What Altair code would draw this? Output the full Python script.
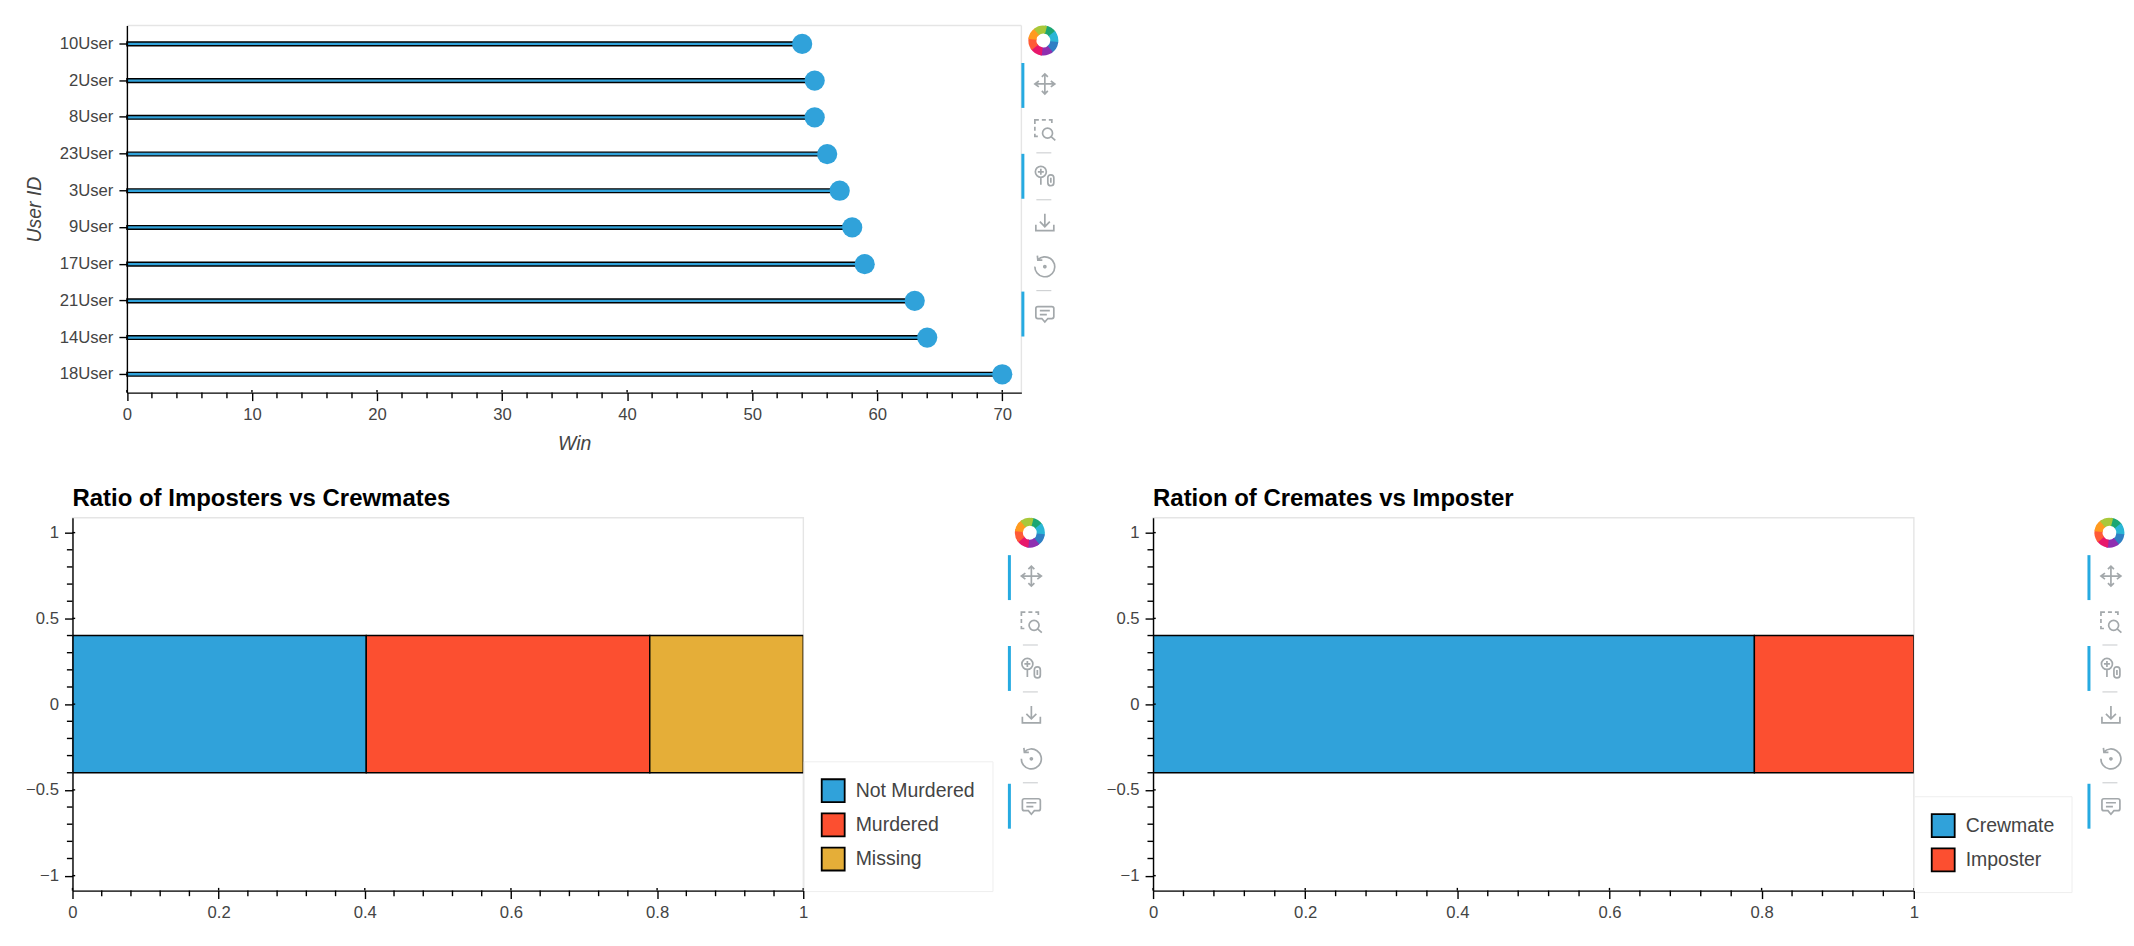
import altair as alt
import pandas as pd

users = ["10User", "2User", "8User", "23User", "3User", "9User", "17User", "21User", "14User", "18User"]
wins = [54, 55, 55, 56, 57, 58, 59, 63, 64, 70]

fate_labels = ["Not Murdered", "Murdered", "Missing"]
fate_start = [0.0, 0.402, 0.79]
fate_end = [0.402, 0.79, 1.0]
fate_colors = ["#30a2da", "#fc4f30", "#e5ae38"]

role_labels = ["Crewmate", "Imposter"]
role_start = [0.0, 0.7905]
role_end = [0.7905, 1.0]
role_colors = ["#30a2da", "#fc4f30"]

bar_low = -0.4
bar_high = 0.4

win_major = [0, 10, 20, 30, 40, 50, 60, 70]
win_minor = [2, 4, 6, 8, 12, 14, 16, 18, 22, 24, 26, 28, 32, 34, 36, 38, 42, 44, 46, 48,
             52, 54, 56, 58, 62, 64, 66, 68]
ratio_major = [0, 0.2, 0.4, 0.6, 0.8, 1]
ratio_minor = [0.04, 0.08, 0.12, 0.16, 0.24, 0.28, 0.32, 0.36, 0.44, 0.48, 0.52, 0.56,
               0.64, 0.68, 0.72, 0.76, 0.84, 0.88, 0.92, 0.96]
y_major = [-1, -0.5, 0, 0.5, 1]
y_minor = [-0.9, -0.8, -0.7, -0.6, -0.4, -0.3, -0.2, -0.1, 0.1, 0.2, 0.3, 0.4, 0.6, 0.7, 0.8, 0.9]

FONT = "Liberation Sans"
TEXT = "#444444"
BLACK = "#000000"
LW = 1.4
BORDER = "#e5e5e5"
ICON = "#a3a8ab"
ACTIVE = "#26aae1"

ICONS = {
    "pan": "M-9,0 L9,0 M0,-10 L0,10 M-6,-3 L-10,0 L-6,3 M6,-3 L10,0 L6,3 M-3,-7 L0,-10 L3,-7 M-3,7 L0,10 L3,7",
    "box": "M-10,-6 L-10,-10 L-6,-10 M-3,-10 L1,-10 M4,-10 L7,-10 L7,-7 M-10,-3 L-10,1 M-10,4 L-10,6.5 L-7,6.5 "
           "M7.7,3.3 A5,5 0 1 1 -2.3,3.3 A5,5 0 1 1 7.7,3.3 M6.5,7 L10.5,10.5",
    "wheel": "M1.5,-4 A5.5,5.5 0 1 1 -9.5,-4 A5.5,5.5 0 1 1 1.5,-4 M-4,-7 L-4,-1 M-7,-4 L-1,-4 M-4,1.5 L-4,9 "
             "M3,2 Q3,-1 6,-1 Q9,-1 9,2 L9,7 Q9,10 6,10 Q3,10 3,7 Z M6,2 L6,7",
    "save": "M0,-8 L0,5 M-5,0 L0,5 L5,0 M-9,3 L-9,9 L9,9 L9,3",
    "reset": "M-7,-7 A10,10 0 1 1 -10,0 M-7.5,-11 L-7,-6.5 L-2.5,-6.5 M1,0 A1,1 0 1 1 -1,0 A1,1 0 1 1 1,0",
    "note": "M-7,-7 L7,-7 Q9,-7 9,-5 L9,3 Q9,5 7,5 L3,5 L0,8.5 L-3,5 L-7,5 Q-9,5 -9,3 L-9,-5 Q-9,-7 -7,-7 Z M-5,-3 L5,-3 M-5,1 L2,1",
}
ICON_ROWS = [("pan", 58.5), ("box", 104.5), ("wheel", 150.5), ("save", 196.5), ("reset", 241.5), ("note", 288.5)]
SEPARATORS = [127.5, 174.5, 265.5]
ACTIVE_SPANS = [(37.5, 82.5), (128.5, 173.5), (266.5, 311.5)]
LOGO = ["#1ba672", "#2ab6d6", "#2f7fc4", "#8e2fb0", "#e8176b", "#ff5a36", "#ff9a1f", "#a9c83a"]
ONE = alt.Data(values=[{"k": 0}])


def toolbar(x0):
    parts = []
    for i, col in enumerate(LOGO):
        parts.append(alt.Chart(ONE).mark_arc(
            theta=i * 0.7854 + 0.1, theta2=(i + 1) * 0.7854 + 0.25, radius=15, radius2=7, color=col
        ).encode(x=alt.value(x0 + 22), y=alt.value(15)))
    for a, b in ACTIVE_SPANS:
        parts.append(alt.Chart(ONE).mark_rule(color=ACTIVE, strokeWidth=3).encode(
            x=alt.value(x0 + 1.5), y=alt.value(a), y2=alt.value(b)))
    for s in SEPARATORS:
        parts.append(alt.Chart(ONE).mark_rule(color="#d0d2d4", strokeWidth=1.2).encode(
            x=alt.value(x0 + 15), x2=alt.value(x0 + 30), y=alt.value(s)))
    for name, yy in ICON_ROWS:
        parts.append(alt.Chart(ONE).mark_point(
            shape=ICONS[name], size=4, filled=False, stroke=ICON, strokeWidth=1.7, opacity=1
        ).encode(x=alt.value(x0 + 23.5), y=alt.value(yy)))
    return parts


def x_ticks(major, minor, scale, h, title):
    inner = alt.Chart(pd.DataFrame({"v": major})).mark_rule(color=BLACK, strokeWidth=LW).encode(
        x=alt.X("v:Q", scale=scale, title=title), y=alt.value(h - 2.7), y2=alt.value(h))
    outer = alt.Chart(pd.DataFrame({"v": minor})).mark_rule(color=BLACK, strokeWidth=LW).encode(
        x=alt.X("v:Q", scale=scale, title=title), y=alt.value(h), y2=alt.value(h + 5.6))
    return [inner, outer]


def y_ticks(major, minor, scale):
    inner = alt.Chart(pd.DataFrame({"v": major})).mark_rule(color=BLACK, strokeWidth=LW).encode(
        y=alt.Y("v:Q", scale=scale, title=None), x=alt.value(0), x2=alt.value(2.7))
    outer = alt.Chart(pd.DataFrame({"v": minor})).mark_rule(color=BLACK, strokeWidth=LW).encode(
        y=alt.Y("v:Q", scale=scale, title=None), x=alt.value(-5.6), x2=alt.value(0))
    return [inner, outer]


# --- lollipop panel: its plot sits further right than the panel below it
INSET = 54.5
W1, H1 = 950.5, 367.7
win_scale = alt.Scale(domain=[0, 71.53], range=[INSET, W1], nice=False, zero=False)
user_scale = alt.Scale(domain=users, paddingInner=0, paddingOuter=0)
win_df = pd.DataFrame({"user": users, "win": wins})

stems = alt.Chart(win_df).mark_bar(
    size=3.7, color="#30a2da", stroke=BLACK, strokeWidth=LW
).encode(
    x=alt.X("win:Q", scale=win_scale, title="Win",
            axis=alt.Axis(values=win_major, format="d", zindex=1, titlePadding=11.5, labelFlush=False)),
    y=alt.Y("user:N", scale=user_scale, sort=users, title="User ID",
            axis=alt.Axis(zindex=1, titlePadding=15, offset=-INSET)),
)
heads = alt.Chart(win_df).mark_circle(size=410, color="#30a2da", opacity=1).encode(
    x=alt.X("win:Q", scale=win_scale, title="Win"),
    y=alt.Y("user:N", scale=user_scale, sort=users, title="User ID"),
)
top_edge = alt.Chart(ONE).mark_rule(color=BORDER, strokeWidth=LW).encode(
    x=alt.value(INSET), x2=alt.value(W1), y=alt.value(0))
right_edge = alt.Chart(ONE).mark_rule(color=BORDER, strokeWidth=LW).encode(
    x=alt.value(W1), y=alt.value(0), y2=alt.value(H1))
panel1 = alt.layer(
    top_edge, right_edge, stems, heads, *x_ticks(win_major, win_minor, win_scale, H1, "Win"), *toolbar(W1)
).properties(width=W1, height=H1, view=alt.ViewConfig(stroke=None))


# --- stacked ratio panels
def ratio_panel(title, labels, starts, ends, colors, width, legend_x, legend_y, bar_x):
    x_scale = alt.Scale(domain=[0, 1], nice=False, zero=False)
    y_scale = alt.Scale(domain=[-1.087, 1.087], nice=False, zero=False)
    h = 373.5
    df = pd.DataFrame({"label": labels, "start": starts, "end": ends,
                       "low": [bar_low] * len(labels), "high": [bar_high] * len(labels)})
    bars = alt.Chart(df).mark_bar(stroke=BLACK, strokeWidth=LW, clip=True).encode(
        x=alt.X("start:Q", scale=x_scale, title=None,
                axis=alt.Axis(values=ratio_major, format="~g", zindex=1, labelFlush=False)),
        x2="end:Q",
        y=alt.Y("low:Q", scale=y_scale, title=None,
                axis=alt.Axis(values=y_major, format=".1~f", zindex=1)),
        y2="high:Q",
        color=alt.Color("label:N", scale=alt.Scale(domain=labels, range=colors), legend=alt.Legend(
            title=None, orient="none", legendX=legend_x, legendY=legend_y,
            fillColor="#ffffff", strokeColor="#eeeeee", padding=17,
            symbolType="square", symbolSize=529, symbolStrokeColor=BLACK, symbolStrokeWidth=1.8,
            labelFont=FONT, labelFontSize=19.5, labelColor=TEXT, labelOffset=10,
            rowPadding=3.2, labelLimit=300,
        )),
    )
    return alt.layer(
        bars, *x_ticks(ratio_major, ratio_minor, x_scale, h, None), *y_ticks(y_major, y_minor, y_scale),
        *toolbar(bar_x)
    ).properties(
        width=width, height=h,
        title=alt.TitleParams(title, anchor="start", frame="group", font=FONT, fontSize=24,
                              fontWeight="bold", color=BLACK, offset=7),
    )


panel2 = ratio_panel("Ratio of Imposters vs Crewmates", fate_labels, fate_start, fate_end,
                     fate_colors, 732, 732.5, 244, 937)
panel3 = ratio_panel("Ration of Cremates vs Imposter", role_labels, role_start, role_end,
                     role_colors, 762, 762, 279, 936)

row2 = alt.hconcat(panel2, panel3, spacing=58.4).resolve_scale(color="independent").resolve_legend(color="independent")
chart = alt.vconcat(panel1, row2, spacing=32).resolve_scale(color="independent").resolve_legend(color="independent").properties(
    padding={"left": 15.6, "top": 15.8, "right": 0, "bottom": 0},
).configure_view(
    stroke=BORDER, strokeWidth=LW
).configure_axis(
    grid=False, domainColor=BLACK, domainWidth=LW, tickColor=BLACK, tickWidth=LW, tickSize=8,
    labelFont=FONT, labelFontSize=16.7, labelColor=TEXT, labelPadding=6,
    titleFont=FONT, titleFontSize=19.5, titleFontStyle="italic", titleFontWeight="normal", titleColor=TEXT,
).configure_concat(spacing=30)

chart.save("out.html", embed_options={"renderer": "svg", "actions": False})
